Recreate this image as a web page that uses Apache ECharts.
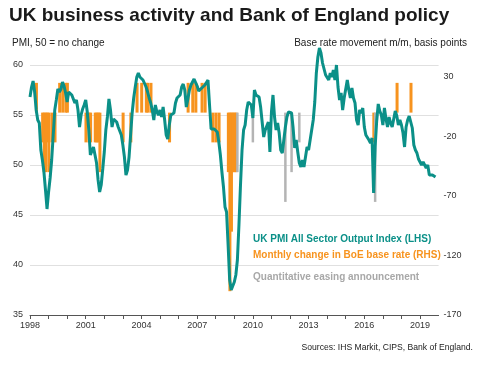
<!DOCTYPE html>
<html><head><meta charset="utf-8">
<script src="https://cdn.jsdelivr.net/npm/echarts@6/dist/echarts.min.js"></script>
<style>html,body{margin:0;padding:0;background:#fff}#c{width:488px;height:366px}</style>
</head><body><div id="c"></div>
<script>
// ---- data ----
const pmiStartYear = 1998; // monthly series starting Jan 1998
const pmi = [
  56.8, 57.8, 58.4, 57.3, 55.5, 54.5, 54.2, 51.5, 50.5, 49.3, 47.5, 45.6,
  47.3, 48.7, 50.5, 53.0, 55.5, 56.5, 57.6, 57.3, 57.6, 58.3, 57.9, 57.2,
  56.3, 57.3, 57.2, 57.0, 56.8, 56.2, 56.5, 55.5, 53.8, 55.0, 55.6, 56.0,
  56.5, 55.3, 53.5, 51.0, 50.8, 51.8, 51.0, 50.2, 48.5, 47.3, 48.0, 49.6,
  51.3, 53.5, 54.8, 56.6, 55.5, 53.8, 54.6, 54.8, 54.3, 53.8, 53.4, 53.0,
  52.0, 50.8, 49.0, 49.5, 50.8, 53.0, 55.2, 56.7, 57.8, 58.8, 59.2, 58.8,
  58.8, 58.5, 58.3, 57.8, 57.3, 56.7, 56.2, 55.5, 54.5, 56.0, 55.3, 55.0,
  55.5, 54.8, 55.8, 54.5, 53.0, 52.6, 54.0, 55.0, 54.8, 55.2, 56.2, 56.7,
  56.6, 57.0, 57.8, 58.1, 57.5, 55.8, 56.6, 57.5, 58.0, 58.3, 58.6, 58.5,
  57.9, 57.4, 57.4, 57.7, 57.8, 58.0, 57.9, 58.5, 56.0, 53.6, 53.8, 53.6,
  53.7, 53.3, 52.3, 51.0, 49.3, 47.8, 45.8, 45.3, 42.0, 38.5, 37.5, 37.6,
  38.3, 39.0, 40.5, 44.0, 48.0, 51.5, 53.5, 54.0, 55.5, 56.3, 56.2, 56.0,
  54.7, 57.5, 57.0, 56.9, 56.8, 55.8, 54.3, 52.8, 53.5, 53.9, 54.3, 51.3,
  55.3, 57.0, 54.8, 53.5, 54.2, 53.2, 51.5, 51.2, 52.5, 53.8, 54.8, 55.3,
  55.3, 55.2, 53.7, 51.7, 52.5, 51.3, 50.2, 49.8, 50.5, 49.8, 49.7, 51.8,
  51.5, 52.5, 53.5, 54.5, 56.3, 59.2, 60.8, 61.7, 61.2, 60.2, 59.6, 59.0,
  59.0, 58.5, 59.2, 58.8, 59.5, 58.5, 60.0, 57.8, 56.5, 57.2, 55.5, 56.7,
  57.6, 58.5, 57.5, 56.7, 57.7, 56.7, 56.2, 54.5, 54.0, 55.5, 55.2, 55.7,
  53.8, 53.0, 53.2, 52.5, 52.2, 52.7, 47.2, 51.8, 54.4, 56.1, 55.4, 55.0,
  54.0, 55.7, 54.6, 53.8, 54.8, 54.2, 53.8, 53.6, 55.4, 54.9, 54.0, 54.5,
  54.0, 53.2, 51.8, 53.8, 54.5, 54.9, 54.3, 53.7, 52.0, 51.5, 51.2, 50.6,
  50.7, 50.0, 50.3, 50.0, 49.7, 50.0, 49.0, 49.2, 49.0, 49.1, 48.8
];
// Monthly change in BoE base rate, bp (months as positioned in the chart)
const rateDates = [
  '1998-05','1998-09','1998-10','1998-11','1998-12','1999-01','1999-03','1999-05',
  '1999-08','1999-10','1999-12','2000-01',
  '2001-01','2001-03','2001-04','2001-07','2001-08','2001-09','2001-10',
  '2003-01','2003-06','2003-10','2004-01','2004-04','2004-05','2004-07',
  '2005-07','2006-07','2006-10','2006-12','2007-04','2007-06',
  '2007-11','2008-01','2008-03','2008-09','2008-10','2008-11','2008-12','2009-01','2009-02',
  '2016-07','2017-10','2018-07'
];
const rateChanges = [
  25,-25,-50,-50,-25,-50,-25,-25,
  25,25,25,25,
  -25,-25,-25,-25,-25,-25,-50,
  -25,-25,25,25,25,25,25,
  -25,25,25,25,25,25,
  -25,-25,-25,-50,-150,-100,-50,-50,-50,
  -25,25,25
];
// Quantitative easing announcements (bar length on RHS scale)
const qeDates = ['2009-03','2010-01','2011-10','2012-02','2012-07','2016-08'];
const qeSizes = [-50,-25,-75,-50,-25,-75];
// Axis ticks
const leftTicks = [35,40,45,50,55,60];
const rightTicks = [-170,-120,-70,-20,30];
const yearTicks = [1998,2001,2004,2007,2010,2013,2016,2019];

// ---- helpers ----
function toYear(s){const p=s.split('-').map(Number);return p[0]+(p[1]-1)/12;}
const leftMin = leftTicks[0], leftMax = 62;
const bpPerPoint = 8.4;
const rightMin = rightTicks[0];
const rightMax = rightMin + bpPerPoint*(leftMax-leftMin);
const xMin = yearTicks[0], xMax = 2020;

const pmiData = pmi.map((v,i)=>[pmiStartYear + i/12, v]);
const rateData = rateDates.map((d,i)=>[toYear(d), rateChanges[i]]);
const qeData = qeDates.map((d,i)=>[toYear(d), qeSizes[i]]);

const FONT = 'Liberation Sans, Arial, sans-serif';
const TEAL = '#0b9088', ORANGE = '#f7931e', GREY = '#b4b4b4';

const chart = echarts.init(document.getElementById('c'), null, {renderer:'canvas'});
chart.setOption({
  animation:false,
  backgroundColor:'#fff',
  textStyle:{fontFamily:FONT},
  title:[
    {text:'UK business activity and Bank of England policy', left:9, top:6, padding:0,
     textStyle:{fontSize:19, fontWeight:'bold', color:'#1a1a1a', fontFamily:FONT}},
    {text:'PMI, 50 = no change', left:12, top:38, padding:0,
     textStyle:{fontSize:10, fontWeight:'normal', color:'#222', fontFamily:FONT}},
    {text:'Base rate movement m/m, basis points', right:21, top:38, padding:0,
     textStyle:{fontSize:10, fontWeight:'normal', color:'#222', fontFamily:FONT}},
    {text:'UK PMI All Sector Output Index (LHS)', left:253, top:234, padding:0,
     textStyle:{fontSize:10, fontWeight:'bold', color:TEAL, fontFamily:FONT}},
    {text:'Monthly change in BoE base rate (RHS)', left:253, top:250, padding:0,
     textStyle:{fontSize:10, fontWeight:'bold', color:ORANGE, fontFamily:FONT}},
    {text:'Quantitative easing announcement', left:253, top:272, padding:0,
     textStyle:{fontSize:10, fontWeight:'bold', color:'#a8a8a8', fontFamily:FONT}},
    {text:'Sources: IHS Markit, CIPS, Bank of England.', right:15, top:343, padding:0,
     textStyle:{fontSize:8.6, fontWeight:'normal', color:'#222', fontFamily:FONT}}
  ],
  grid:{left:30, right:49.4, top:45, bottom:51, containLabel:false},
  xAxis:{type:'value', min:xMin, max:xMax, interval:1,
    axisLine:{show:true, onZero:false, lineStyle:{color:'#555', width:1}},
    axisTick:{show:true, length:4, lineStyle:{color:'#555'}},
    splitLine:{show:false},
    axisLabel:{color:'#333', fontSize:9, margin:6, fontFamily:FONT, showMaxLabel:false,
      formatter:v=> yearTicks.indexOf(Math.round(v))>=0 ? String(Math.round(v)) : ''}},
  yAxis:[
    {type:'value', min:leftMin, max:leftMax, interval:5, position:'left',
     axisLine:{show:false}, axisTick:{show:false},
     axisLabel:{color:'#333', fontSize:9, margin:7, fontFamily:FONT, showMaxLabel:false,
       formatter:v=> leftTicks.indexOf(v)>=0 ? String(v) : ''},
     splitLine:{show:true, showMinLine:false, showMaxLine:false, lineStyle:{color:'#e0e0e0', width:1}}},
    {type:'value', min:rightMin, max:rightMax, position:'right', show:false,
     splitLine:{show:false}},
    {type:'value', min:0, max:rightMax-rightMin, interval:50, position:'right',
     axisLine:{show:false}, axisTick:{show:false}, splitLine:{show:false},
     axisLabel:{color:'#333', fontSize:9, margin:5, fontFamily:FONT, showMaxLabel:false,
       formatter:v=>{const t=v+rightMin; return rightTicks.indexOf(t)>=0 ? String(t) : '';}}}
  ],
  series:[
    {type:'bar', name:'rate', yAxisIndex:1, data:rateData, barWidth:3,
     itemStyle:{color:ORANGE}, z:2},
    {type:'bar', name:'qe', yAxisIndex:1, data:qeData, barWidth:2.5, barGap:'-100%',
     itemStyle:{color:GREY}, z:3, clip:false,
     markLine:{silent:true, symbol:'none', label:{show:false},
       lineStyle:{color:'#a6a6a6', width:2, type:'solid'},
       data:[[{coord:[xMin,0]},{coord:[xMax+1,0]}]]}},
    {type:'line', name:'pmi', yAxisIndex:0, data:pmiData, showSymbol:false, symbol:'none',
     lineStyle:{color:TEAL, width:3}, z:5}
  ]
});
</script>
</body></html>
